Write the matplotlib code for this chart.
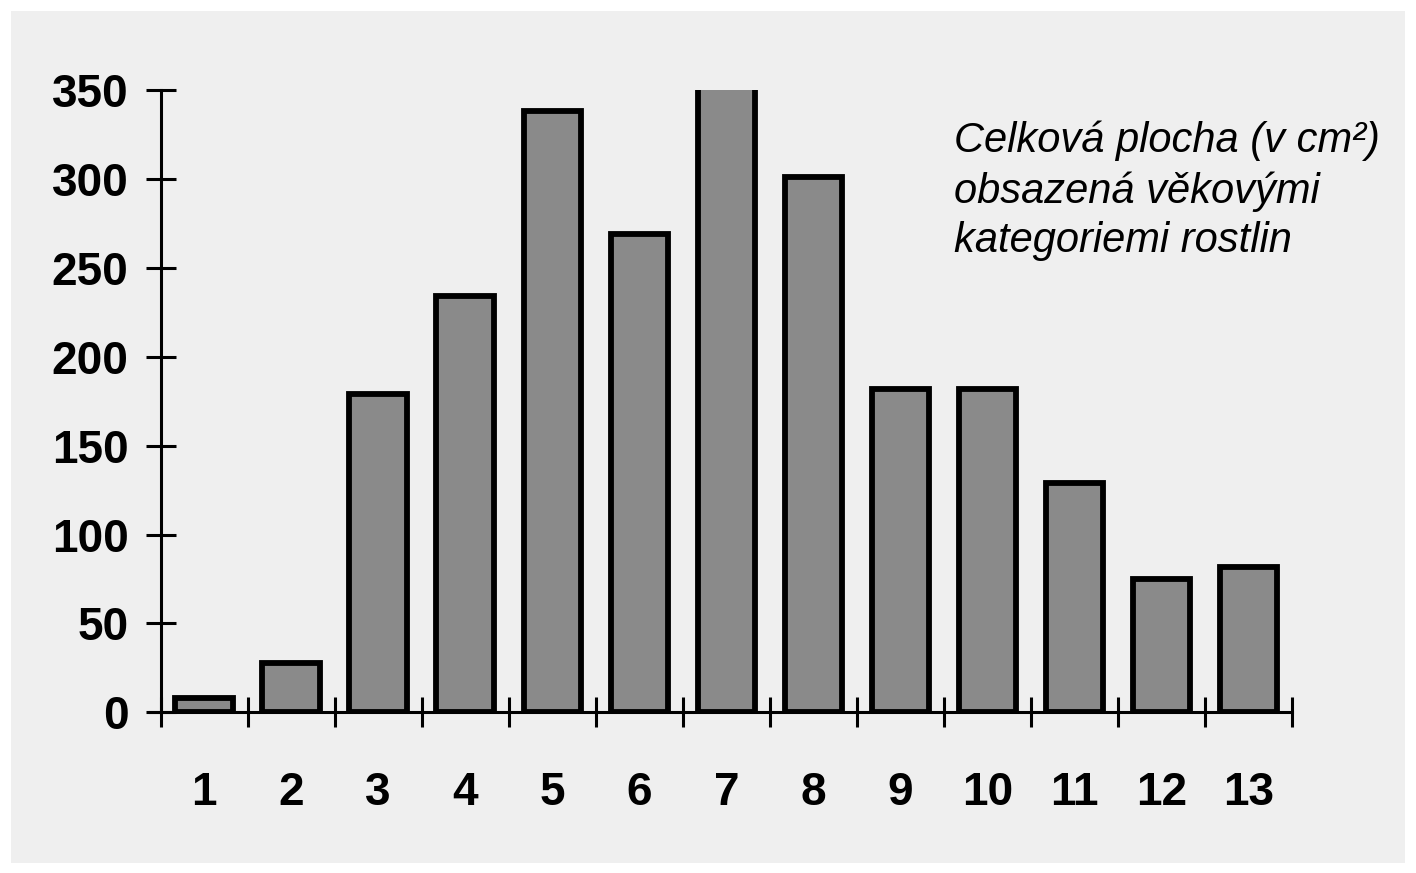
import matplotlib.pyplot as plt
from matplotlib.patches import Rectangle

# category numbers and area values (cm2)
categories = [1, 2, 3, 4, 5, 6, 7, 8, 9, 10, 11, 12, 13]
area = [8, 28, 179, 234, 338, 269, 360, 301, 182, 182, 129, 75, 82]
y_ticks = [0, 50, 100, 150, 200, 250, 300, 350]
note = "Celková plocha (v cm²)\nobsazená věkovými\nkategoriemi rostlin"

plt.rcParams['font.family'] = ['Liberation Sans', 'DejaVu Sans']

fig = plt.figure(figsize=(14.16, 8.73), dpi=100, facecolor='white')
# light grey scanned page behind the chart
fig.patches.append(Rectangle((0.008, 0.012), 0.984, 0.975, transform=fig.transFigure,
                             facecolor='#efefef', edgecolor='none', zorder=-10))

ax = fig.add_axes([0.106, 0.184, 0.8065, 0.713])
ax.patch.set_alpha(0)

ax.bar(categories, area, width=0.66, color='#8a8a8a', edgecolor='black', linewidth=4.2)

ax.set_ylim(0, 350)
ax.set_xlim(0.38, 13.5)

# axes look: only left and bottom lines, crossing ticks
for side in ['top', 'right']:
    ax.spines[side].set_visible(False)
ax.spines['left'].set_position(('data', 0.5))
ax.spines['left'].set_linewidth(2.2)
ax.spines['bottom'].set_linewidth(2.2)

ax.set_yticks(y_ticks)
ax.set_yticklabels([str(v) for v in y_ticks], fontsize=33, fontweight='bold')
ax.tick_params(axis='y', direction='inout', length=22, width=2.2, pad=12)

# tick marks between categories, labels under bar centres
ax.set_xticks([c + 0.5 for c in categories[:-1]] + [0.5, 13.5])
ax.set_xticklabels([])
ax.tick_params(axis='x', direction='inout', length=22, width=2.2)
ax.set_xticks(categories, minor=True)
ax.set_xticklabels([str(c) for c in categories], minor=True, fontsize=33, fontweight='bold')
ax.tick_params(axis='x', which='minor', length=0, pad=42)

fig.text(0.674, 0.862, note, fontsize=30, fontstyle='italic', va='top', ha='left',
         linespacing=1.32)

fig.savefig('out.png', dpi=100, facecolor=fig.get_facecolor())
